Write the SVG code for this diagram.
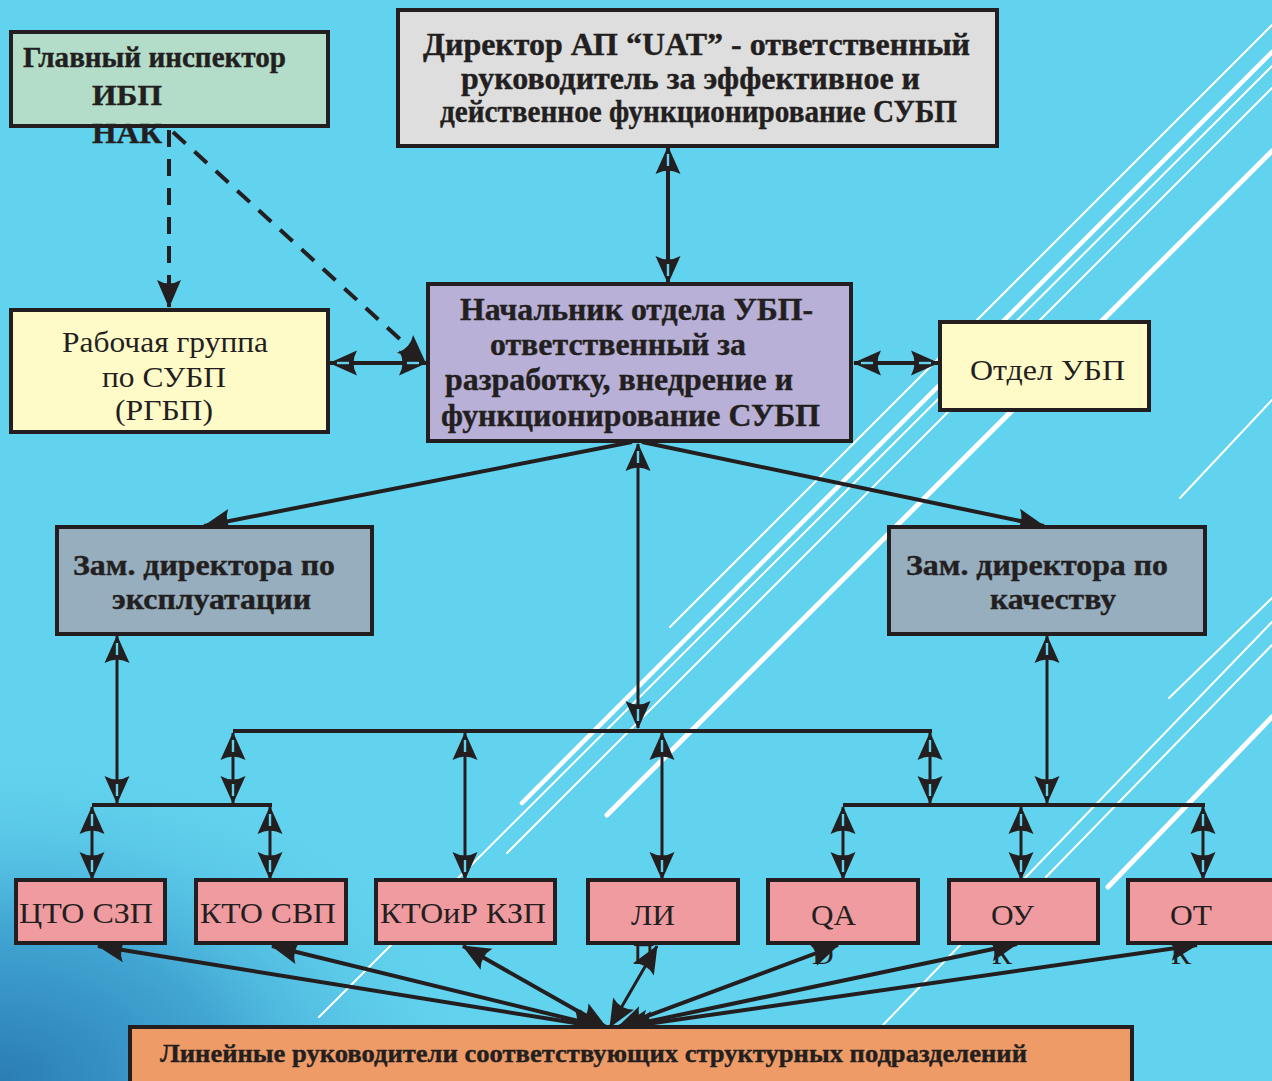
<svg xmlns="http://www.w3.org/2000/svg" width="1272" height="1081" viewBox="0 0 1272 1081">
<defs>
<radialGradient id="bl" cx="0" cy="1081" r="460" gradientUnits="userSpaceOnUse" gradientTransform="translate(0 1081) scale(1.1 0.75) translate(0 -1081)">
<stop offset="0" stop-color="#2A7DB3"/>
<stop offset="0.45" stop-color="#42A6D3"/>
<stop offset="1" stop-color="#62D3EE" stop-opacity="0"/>
</radialGradient>
<marker id="ah" viewBox="-30 -14 32 28" refX="0" refY="0" markerWidth="32" markerHeight="28" markerUnits="userSpaceOnUse" orient="auto-start-reverse" overflow="visible">
<path d="M1,0 L-27,-12.5 Q-20,0 -27,12.5 Z" fill="#231F20"/>
<rect x="-19" y="-1.2" width="12" height="2.4" fill="#62D3EE"/>
</marker>
<marker id="ah2" viewBox="-30 -14 32 28" refX="0" refY="0" markerWidth="32" markerHeight="28" markerUnits="userSpaceOnUse" orient="auto-start-reverse" overflow="visible">
<path d="M1,0 L-27,-12 Q-20,0 -27,12 Z" fill="#231F20"/>
</marker>
</defs>
<style>
.box{stroke:#231F20;stroke-width:4}
.b{font-family:"Liberation Serif","Times New Roman",serif;font-weight:bold;fill:#231F20;stroke:#231F20;stroke-width:0.4}
.r{font-family:"Liberation Serif","Times New Roman",serif;fill:#231F20}
.c{stroke:#231F20;stroke-width:4;fill:none}
.t{stroke-width:3}
.d{stroke-dasharray:17 12}
.w{stroke:#FFFFFF;fill:none;stroke-linecap:round}
</style>
<rect x="0" y="0" width="1272" height="1081" fill="#62D3EE"/>
<rect x="0" y="0" width="1272" height="1081" fill="url(#bl)"/>
<g id="background-lines">
<line class="w" x1="670" y1="627" x2="1272" y2="25" stroke-width="2"/>
<line class="w" x1="522" y1="803" x2="1272" y2="52" stroke-width="4.5"/>
<line class="w" x1="319" y1="1017" x2="1272" y2="66" stroke-width="2"/>
<line class="w" x1="507" y1="853" x2="1272" y2="88" stroke-width="2"/>
<line class="w" x1="607" y1="815" x2="1272" y2="151" stroke-width="5"/>
<line class="w" x1="883" y1="1025" x2="1272" y2="622" stroke-width="2"/>
<line class="w" x1="1046" y1="877" x2="1272" y2="645" stroke-width="2"/>
<line class="w" x1="1108" y1="887" x2="1272" y2="717" stroke-width="5"/>
<line class="w" x1="1169" y1="698" x2="1272" y2="598" stroke-width="2"/>
<line class="w" x1="1180" y1="498" x2="1272" y2="400" stroke-width="2"/>
</g>
<g id="connectors">
<line class="c" x1="668" y1="147" x2="668" y2="283" marker-start="url(#ah)" marker-end="url(#ah)"/>
<line class="c d" x1="169" y1="130" x2="169" y2="307" marker-end="url(#ah2)"/>
<line class="c d" x1="173" y1="132" x2="425" y2="362" marker-end="url(#ah2)"/>
<line class="c" x1="330" y1="363" x2="426" y2="363" marker-start="url(#ah)" marker-end="url(#ah)"/>
<line class="c" x1="854" y1="363" x2="938" y2="363" marker-start="url(#ah)" marker-end="url(#ah)"/>
<line class="c" x1="632" y1="442" x2="204" y2="526" marker-end="url(#ah2)"/>
<line class="c" x1="642" y1="442" x2="1044" y2="526" marker-end="url(#ah2)"/>
<line class="c t" x1="638" y1="444" x2="638" y2="728" marker-start="url(#ah)" marker-end="url(#ah)"/>
<line class="c" x1="233" y1="731" x2="932" y2="731" stroke-width="5"/>
<line class="c t" x1="233" y1="733" x2="233" y2="803" marker-start="url(#ah)" marker-end="url(#ah)"/>
<line class="c t" x1="465" y1="733" x2="465" y2="879" marker-start="url(#ah)" marker-end="url(#ah)"/>
<line class="c t" x1="662" y1="733" x2="662" y2="879" marker-start="url(#ah)" marker-end="url(#ah)"/>
<line class="c t" x1="930" y1="733" x2="930" y2="803" marker-start="url(#ah)" marker-end="url(#ah)"/>
<line class="c t" x1="117" y1="636" x2="117" y2="803" marker-start="url(#ah)" marker-end="url(#ah)"/>
<line class="c" x1="92" y1="805" x2="272" y2="805"/>
<line class="c t" x1="92" y1="807" x2="92" y2="879" marker-start="url(#ah)" marker-end="url(#ah)"/>
<line class="c t" x1="270" y1="807" x2="270" y2="879" marker-start="url(#ah)" marker-end="url(#ah)"/>
<line class="c t" x1="1047" y1="636" x2="1047" y2="803" marker-start="url(#ah)" marker-end="url(#ah)"/>
<line class="c" x1="843" y1="805" x2="1205" y2="805"/>
<line class="c t" x1="843" y1="807" x2="843" y2="879" marker-start="url(#ah)" marker-end="url(#ah)"/>
<line class="c t" x1="1021" y1="807" x2="1021" y2="879" marker-start="url(#ah)" marker-end="url(#ah)"/>
<line class="c t" x1="1203" y1="807" x2="1203" y2="879" marker-start="url(#ah)" marker-end="url(#ah)"/>
<line class="c" x1="98" y1="946" x2="600" y2="1027" marker-start="url(#ah2)" marker-end="url(#ah2)"/>
<line class="c" x1="272" y1="946" x2="603" y2="1027" marker-start="url(#ah2)" marker-end="url(#ah2)"/>
<line class="c" x1="463" y1="946" x2="606" y2="1027" marker-start="url(#ah2)" marker-end="url(#ah2)"/>
<line class="c t" x1="657" y1="946" x2="610" y2="1027" marker-start="url(#ah2)" marker-end="url(#ah2)"/>
<line class="c" x1="838" y1="945" x2="618" y2="1027" marker-start="url(#ah2)" marker-end="url(#ah2)"/>
<line class="c" x1="1017" y1="944" x2="622" y2="1027" marker-start="url(#ah2)" marker-end="url(#ah2)"/>
<line class="c" x1="1197" y1="945" x2="626" y2="1027" marker-start="url(#ah2)" marker-end="url(#ah2)"/>
</g>
<g id="n-glav">
<rect class="box" x="11" y="32" width="317" height="94" fill="#B3DDC9"/>
<text class="b" x="23" y="67" font-size="29" textLength="263" lengthAdjust="spacingAndGlyphs">Главный инспектор</text>
<text class="b" x="92" y="105" font-size="29" textLength="70" lengthAdjust="spacingAndGlyphs">ИБП</text>
<text class="b" x="92" y="143" font-size="29" textLength="70" lengthAdjust="spacingAndGlyphs">НАК</text>
</g>
<g id="n-director">
<rect class="box" x="398" y="10" width="599" height="136" fill="#DEDEDE"/>
<text class="b" x="423" y="55" font-size="32" textLength="547" lengthAdjust="spacingAndGlyphs">Директор АП “UAT” - ответственный</text>
<text class="b" x="461" y="89" font-size="32" textLength="459" lengthAdjust="spacingAndGlyphs">руководитель за эффективное и</text>
<text class="b" x="440" y="122" font-size="32" textLength="517" lengthAdjust="spacingAndGlyphs">действенное функционирование СУБП</text>
</g>
<g id="n-rg">
<rect class="box" x="11" y="310" width="317" height="122" fill="#FFFBC9"/>
<text class="r" x="62" y="352" font-size="30" textLength="206" lengthAdjust="spacingAndGlyphs">Рабочая группа</text>
<text class="r" x="102" y="387" font-size="30" textLength="124" lengthAdjust="spacingAndGlyphs">по СУБП</text>
<text class="r" x="115" y="420" font-size="30" textLength="98" lengthAdjust="spacingAndGlyphs">(РГБП)</text>
</g>
<g id="n-head">
<rect class="box" x="428" y="284" width="423" height="157" fill="#B8B0D6"/>
<text class="b" x="460" y="320" font-size="32" textLength="353" lengthAdjust="spacingAndGlyphs">Начальник отдела УБП-</text>
<text class="b" x="490" y="355" font-size="32" textLength="256" lengthAdjust="spacingAndGlyphs">ответственный за</text>
<text class="b" x="445" y="390" font-size="32" textLength="348" lengthAdjust="spacingAndGlyphs">разработку, внедрение и</text>
<text class="b" x="441" y="426" font-size="32" textLength="379" lengthAdjust="spacingAndGlyphs">функционирование СУБП</text>
</g>
<g id="n-otdel">
<rect class="box" x="940" y="322" width="209" height="88" fill="#FFFBC9"/>
<text class="r" x="970" y="380" font-size="30" textLength="155" lengthAdjust="spacingAndGlyphs">Отдел УБП</text>
</g>
<g id="n-zam-expl">
<rect class="box" x="57" y="527" width="315" height="107" fill="#97AEBF"/>
<text class="b" x="73" y="575" font-size="30" textLength="262" lengthAdjust="spacingAndGlyphs">Зам. директора по</text>
<text class="b" x="112" y="609" font-size="30" textLength="199" lengthAdjust="spacingAndGlyphs">эксплуатации</text>
</g>
<g id="n-zam-qual">
<rect class="box" x="889" y="527" width="316" height="107" fill="#97AEBF"/>
<text class="b" x="906" y="575" font-size="30" textLength="262" lengthAdjust="spacingAndGlyphs">Зам. директора по</text>
<text class="b" x="990" y="609" font-size="30" textLength="126" lengthAdjust="spacingAndGlyphs">качеству</text>
</g>
<g id="n-cto">
<rect class="box" x="16" y="880" width="149" height="63" fill="#F09BA0"/>
<text class="r" x="19" y="923" font-size="30" textLength="134" lengthAdjust="spacingAndGlyphs">ЦТО СЗП</text>
</g>
<g id="n-kto">
<rect class="box" x="196" y="880" width="150" height="63" fill="#F09BA0"/>
<text class="r" x="200" y="923" font-size="30" textLength="136" lengthAdjust="spacingAndGlyphs">КТО СВП</text>
</g>
<g id="n-ktoir">
<rect class="box" x="376" y="880" width="179" height="63" fill="#F09BA0"/>
<text class="r" x="380" y="923" font-size="30" textLength="166" lengthAdjust="spacingAndGlyphs">КТОиР КЗП</text>
</g>
<g id="n-li">
<text class="r" x="633" y="964" font-size="30">П</text>
<rect class="box" x="588" y="880" width="150" height="63" fill="#F09BA0"/>
<text class="r" x="631" y="925" font-size="30" textLength="44" lengthAdjust="spacingAndGlyphs">ЛИ</text>
</g>
<g id="n-qa">
<text class="r" x="812" y="964" font-size="30">D</text>
<rect class="box" x="768" y="880" width="150" height="63" fill="#F09BA0"/>
<text class="r" x="811" y="925" font-size="30" textLength="45" lengthAdjust="spacingAndGlyphs">QA</text>
</g>
<g id="n-ou">
<text class="r" x="992" y="964" font-size="30">К</text>
<rect class="box" x="949" y="880" width="149" height="63" fill="#F09BA0"/>
<text class="r" x="991" y="925" font-size="30" textLength="43" lengthAdjust="spacingAndGlyphs">ОУ</text>
</g>
<g id="n-ot">
<text class="r" x="1171" y="964" font-size="30">К</text>
<rect class="box" x="1128" y="880" width="160" height="63" fill="#F09BA0"/>
<text class="r" x="1170" y="925" font-size="30" textLength="42" lengthAdjust="spacingAndGlyphs">ОТ</text>
</g>
<g id="n-line">
<rect class="box" x="130" y="1027" width="1002" height="70" fill="#EE9B67"/>
<text class="b" x="160" y="1062" font-size="25" textLength="867" lengthAdjust="spacingAndGlyphs">Линейные руководители соответствующих структурных подразделений</text>
</g>
</svg>
